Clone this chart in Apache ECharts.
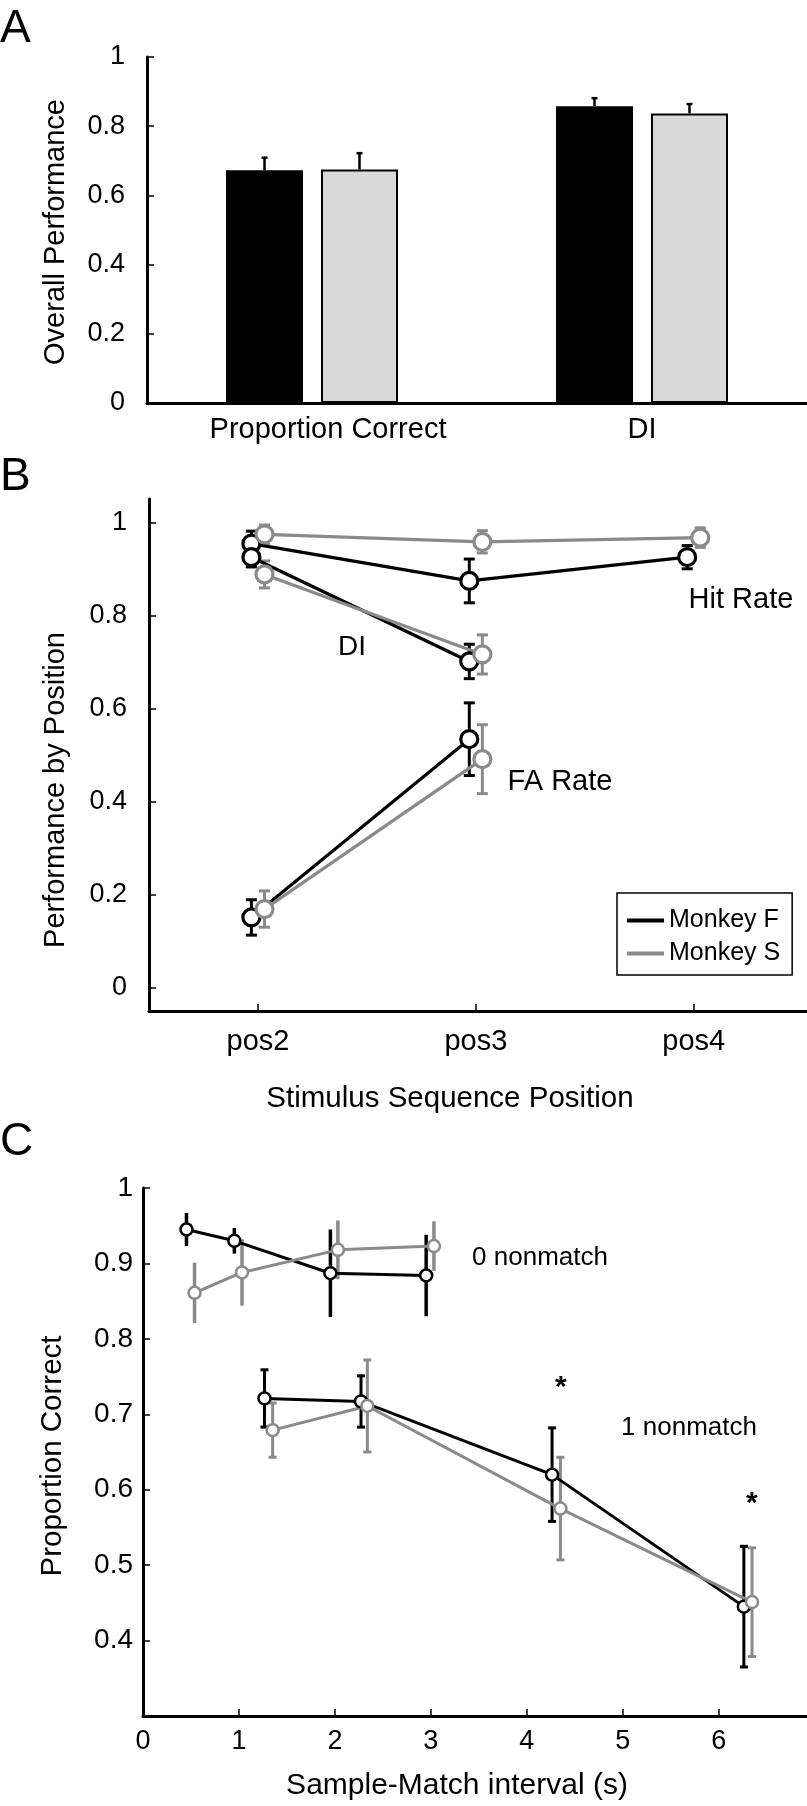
<!DOCTYPE html>
<html><head><meta charset="utf-8">
<script src="https://cdn.jsdelivr.net/npm/echarts@6/dist/echarts.min.js"></script>
<style>html,body{margin:0;padding:0;background:#fff}#c{width:807px;height:1806px}</style>
</head><body><div id="c"></div>
<script>
// ---------- Panel A data ----------
const barCategories = ['Proportion Correct', 'DI'];
const barMonkeyF = [0.673, 0.858];
const barMonkeyFErr = [0.036, 0.023];
const barMonkeyS = [0.675, 0.837];
const barMonkeySErr = [0.047, 0.027];
const ticksA = [0, 0.2, 0.4, 0.6, 0.8, 1];

// ---------- Panel B data ----------
const positions = [2, 3, 4];
const positionLabels = ['pos2', 'pos3', 'pos4'];
const ticksB = [0, 0.2, 0.4, 0.6, 0.8, 1];
const hitF = [0.954, 0.874, 0.925];
const hitFErr = [0.027, 0.047, 0.025];
const hitS = [0.974, 0.958, 0.967];
const hitSErr = [0.020, 0.024, 0.021];
const diF = [0.925, 0.701];
const diFErr = [0.021, 0.037];
const diS = [0.888, 0.716];
const diSErr = [0.029, 0.042];
const faF = [0.151, 0.534];
const faFErr = [0.038, 0.078];
const faS = [0.169, 0.491];
const faSErr = [0.039, 0.074];
const legendNames = ['Monkey F', 'Monkey S'];

// ---------- Panel C data ----------
const ticksCx = [0, 1, 2, 3, 4, 5, 6];
const ticksCy = [0.4, 0.5, 0.6, 0.7, 0.8, 0.9, 1];
const nm0F_x = [0.453, 0.952, 1.953, 2.951];
const nm0F_y = [0.945, 0.930, 0.887, 0.884];
const nm0F_e = [0.022, 0.017, 0.058, 0.054];
const nm0S_x = [0.537, 1.032, 2.031, 3.032];
const nm0S_y = [0.861, 0.888, 0.918, 0.923];
const nm0S_e = [0.040, 0.044, 0.039, 0.033];
const nm1F_x = [1.266, 2.272, 4.263, 6.262];
const nm1F_y = [0.721, 0.717, 0.620, 0.445];
const nm1F_e = [0.038, 0.034, 0.062, 0.080];
const nm1S_x = [1.351, 2.338, 4.350, 6.347];
const nm1S_y = [0.679, 0.711, 0.575, 0.451];
const nm1S_e = [0.036, 0.061, 0.068, 0.072];
const starX = [4.355, 6.345];
const starY = [0.735, 0.582];

// ---------- styling ----------
const FONT = "'Liberation Sans', Arial, Helvetica, sans-serif";
const BLACK = '#000000';
const GRAY = '#8a8a8a';
const LIGHT = '#d9d9d9';
const BAR_W = 77, BAR_GAP = 18;
const DODGE = 0.03;

const chart = echarts.init(document.getElementById('c'), null, {renderer: 'canvas'});

function errSeries(xi, yi, data, color, lw, cap, opts) {
  opts = opts || {};
  return {
    type: 'custom', xAxisIndex: xi, yAxisIndex: yi, data: data, silent: true,
    z: 2, animation: false,
    renderItem: function (params, api) {
      const x = api.value(0), lo = api.value(2), hi = api.value(3);
      const dx = opts.dx || 0;
      const a = api.coord([x, lo]), b = api.coord([x, hi]);
      a[0] += dx; b[0] += dx;
      const st = {stroke: color, lineWidth: lw};
      const ch = [{type: 'line', shape: {x1: a[0], y1: a[1], x2: b[0], y2: b[1]}, style: st}];
      if (cap) {
        if (!opts.upperOnly) ch.push({type: 'line', shape: {x1: a[0] - cap, y1: a[1], x2: a[0] + cap, y2: a[1]}, style: st});
        ch.push({type: 'line', shape: {x1: b[0] - cap, y1: b[1], x2: b[0] + cap, y2: b[1]}, style: st});
      }
      return {type: 'group', children: ch};
    }
  };
}
function lineSeries(name, xi, yi, data, color, lw, size, bw) {
  return {
    type: 'line', name: name, xAxisIndex: xi, yAxisIndex: yi, data: data,
    symbol: 'circle', symbolSize: size, showSymbol: true, z: 3,
    lineStyle: {color: color, width: lw},
    itemStyle: {color: '#ffffff', borderColor: color, borderWidth: bw},
    emphasis: {disabled: true}, animation: false
  };
}
const zipB = (vals, dx) => vals.map((v, i) => [positions[i] + dx, v]);
const zipBe = (vals, errs, dx) => vals.map((v, i) => [positions[i] + dx, v, v - errs[i], v + errs[i]]);
const zipC = (xs, ys) => ys.map((v, i) => [xs[i], v]);
const zipCe = (xs, ys, es) => ys.map((v, i) => [xs[i], v, v - es[i], v + es[i]]);

const axisLineStyle = {show: true, onZero: false, lineStyle: {color: BLACK, width: 3}};
const tickStyle = {show: true, inside: true, length: 7, lineStyle: {color: BLACK, width: 1.5}};

const series = [];
// Panel A bars
series.push({type: 'bar', name: 'A_F', xAxisIndex: 0, yAxisIndex: 0, data: barMonkeyF,
  barWidth: BAR_W, barGap: (BAR_GAP / BAR_W * 100) + '%',
  itemStyle: {color: BLACK, borderColor: BLACK, borderWidth: 2}, emphasis: {disabled: true}, animation: false});
series.push({type: 'bar', name: 'A_S', xAxisIndex: 0, yAxisIndex: 0, data: barMonkeyS,
  barWidth: BAR_W,
  itemStyle: {color: LIGHT, borderColor: BLACK, borderWidth: 2}, emphasis: {disabled: true}, animation: false});
const off = (BAR_W + BAR_GAP) / 2;
series.push(errSeries(0, 0, barMonkeyF.map((v, i) => [i, v, v, v + barMonkeyFErr[i]]), BLACK, 2.5, 3, {dx: -off, upperOnly: true}));
series.push(errSeries(0, 0, barMonkeyS.map((v, i) => [i, v, v, v + barMonkeySErr[i]]), BLACK, 2.5, 3, {dx: off, upperOnly: true}));

// Panel B
series.push(errSeries(1, 1, zipBe(hitF, hitFErr, -DODGE), BLACK, 3, 5.5));
series.push(errSeries(1, 1, zipBe(diF, diFErr, -DODGE), BLACK, 3, 5.5));
series.push(errSeries(1, 1, zipBe(faF, faFErr, -DODGE), BLACK, 3, 5.5));
series.push(lineSeries('Monkey F', 1, 1, zipB(hitF, -DODGE), BLACK, 3.2, 17, 3.2));
series.push(lineSeries('Monkey F', 1, 1, zipB(diF, -DODGE), BLACK, 3.2, 17, 3.2));
series.push(lineSeries('Monkey F', 1, 1, zipB(faF, -DODGE), BLACK, 3.2, 17, 3.2));
series.push(errSeries(1, 1, zipBe(hitS, hitSErr, DODGE), GRAY, 3, 5.5));
series.push(errSeries(1, 1, zipBe(diS, diSErr, DODGE), GRAY, 3, 5.5));
series.push(errSeries(1, 1, zipBe(faS, faSErr, DODGE), GRAY, 3, 5.5));
series.push(lineSeries('Monkey S', 1, 1, zipB(hitS, DODGE), GRAY, 3.2, 17, 3.2));
series.push(lineSeries('Monkey S', 1, 1, zipB(diS, DODGE), GRAY, 3.2, 17, 3.2));
series.push(lineSeries('Monkey S', 1, 1, zipB(faS, DODGE), GRAY, 3.2, 17, 3.2));

// Panel C
series.push(errSeries(2, 2, zipCe(nm0F_x, nm0F_y, nm0F_e), BLACK, 3.5, 0));
series.push(errSeries(2, 2, zipCe(nm1F_x, nm1F_y, nm1F_e), BLACK, 3, 4));
series.push(lineSeries('C_F0', 2, 2, zipC(nm0F_x, nm0F_y), BLACK, 3, 12, 2.5));
series.push(lineSeries('C_F1', 2, 2, zipC(nm1F_x, nm1F_y), BLACK, 3, 12, 2.5));
series.push(errSeries(2, 2, zipCe(nm0S_x, nm0S_y, nm0S_e), GRAY, 3.5, 0));
series.push(errSeries(2, 2, zipCe(nm1S_x, nm1S_y, nm1S_e), GRAY, 3, 4));
series.push(lineSeries('C_S0', 2, 2, zipC(nm0S_x, nm0S_y), GRAY, 3, 12, 2.5));
series.push(lineSeries('C_S1', 2, 2, zipC(nm1S_x, nm1S_y), GRAY, 3, 12, 2.5));
// significance stars
series.push({type: 'custom', xAxisIndex: 2, yAxisIndex: 2, silent: true, z: 4, animation: false,
  data: starX.map((x, i) => [x, starY[i]]),
  renderItem: function (params, api) {
    const p = api.coord([api.value(0), api.value(1)]);
    return {type: 'text', x: p[0], y: p[1], style: {text: '*', font: 'bold 30px ' + FONT, fill: BLACK, align: 'center', verticalAlign: 'middle'}};
  }
});

function txt(text, x, y, size, rot, extra) {
  return Object.assign({type: 'text', x: x, y: y, rotation: rot || 0,
    style: {text: text, font: size + 'px ' + FONT, fill: BLACK, align: 'center', verticalAlign: 'middle'}}, extra || {});
}
function letter(t, y) {
  return {type: 'text', x: 0, y: y, style: {text: t, font: '46px ' + FONT, fill: BLACK, align: 'left', verticalAlign: 'middle'}};
}

const option = {
  backgroundColor: '#ffffff',
  animation: false,
  textStyle: {fontFamily: FONT, color: BLACK},
  grid: [
    {left: 147, right: 0, top: 57, bottom: 1403},
    {left: 149, right: 0, top: 499, bottom: 795},
    {left: 143, right: 0, top: 1188, bottom: 90}
  ],
  legend: {
    data: legendNames.map((n, i) => ({name: n, icon: 'rect', itemStyle: {color: i === 0 ? BLACK : GRAY, borderWidth: 0}})),
    orient: 'vertical', left: 617, top: 893, itemWidth: 37, itemHeight: 4, itemGap: 8,
    padding: [15, 12, 9, 10], borderColor: BLACK, borderWidth: 1.5, selectedMode: false,
    textStyle: {fontFamily: FONT, fontSize: 25, color: BLACK}
  },
  xAxis: [
    {type: 'category', gridIndex: 0, data: barCategories,
      axisLine: axisLineStyle, axisTick: {show: false}, splitLine: {show: false},
      axisLabel: {fontFamily: FONT, fontSize: 29, color: BLACK, margin: 12, interval: 0,
        formatter: (v, i) => i === 0 ? '{a|' + v + '}' : '{b|' + v + '}',
        rich: {a: {fontFamily: FONT, fontSize: 29, color: BLACK, padding: [0, 0, 0, 32]}, b: {fontFamily: FONT, fontSize: 29, color: BLACK}}}},
    {type: 'value', gridIndex: 1, min: 1.5, max: 4.52,
      axisLine: axisLineStyle, splitLine: {show: false},
      axisTick: Object.assign({customValues: positions}, tickStyle),
      axisLabel: {customValues: positions, formatter: v => positionLabels[positions.indexOf(v)],
        fontFamily: FONT, fontSize: 29, color: BLACK, margin: 16}},
    {type: 'value', gridIndex: 2, min: 0, max: 6.92,
      axisLine: axisLineStyle, splitLine: {show: false},
      axisTick: Object.assign({customValues: ticksCx}, tickStyle),
      axisLabel: {customValues: ticksCx, fontFamily: FONT, fontSize: 27, color: BLACK, margin: 12}}
  ],
  yAxis: [
    {type: 'value', gridIndex: 0, min: 0, max: 1,
      axisLine: axisLineStyle, splitLine: {show: false},
      axisTick: Object.assign({customValues: ticksA}, tickStyle),
      axisLabel: {customValues: ticksA, fontFamily: FONT, fontSize: 27, color: BLACK, margin: 22}},
    {type: 'value', gridIndex: 1, min: -0.05, max: 1.05,
      axisLine: axisLineStyle, splitLine: {show: false},
      axisTick: Object.assign({customValues: ticksB}, tickStyle),
      axisLabel: {customValues: ticksB, fontFamily: FONT, fontSize: 27, color: BLACK, margin: 22}},
    {type: 'value', gridIndex: 2, min: 0.3, max: 1,
      axisLine: axisLineStyle, splitLine: {show: false},
      axisTick: Object.assign({customValues: ticksCy}, tickStyle),
      axisLabel: {customValues: ticksCy, fontFamily: FONT, fontSize: 28, color: BLACK, margin: 10}}
  ],
  graphic: [
    letter('A', 29), letter('B', 477), letter('C', 1142),
    txt('Overall Performance', 56, 232, 29, Math.PI / 2),
    txt('Performance by Position', 56, 790, 29, Math.PI / 2),
    txt('Stimulus Sequence Position', 450, 1099, 29.5),
    txt('Proportion Correct', 53, 1456, 29.5, Math.PI / 2),
    txt('Sample-Match interval (s)', 457, 1786, 30),
    txt('Hit Rate', 741, 600, 29),
    txt('DI', 352, 647, 28),
    txt('FA Rate', 560, 782, 29),
    txt('0 nonmatch', 540, 1258, 26),
    txt('1 nonmatch', 689, 1428, 26)
  ],
  series: series
};
chart.setOption(option);
</script></body></html>
